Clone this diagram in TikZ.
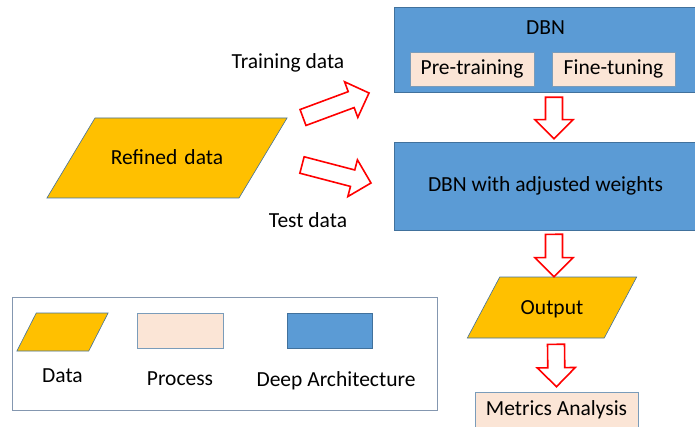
\documentclass[tikz,border=0pt]{standalone}
\usepackage{fontspec}
\setmainfont{Carlito}
\usetikzlibrary{shapes,arrows,calc}
\definecolor{dbnblue}{HTML}{5B9BD5}
\definecolor{dbnedge}{HTML}{41719C}
\definecolor{dataorange}{HTML}{FFC000}
\definecolor{procpeach}{HTML}{FBE5D6}
\definecolor{framegray}{HTML}{8497B0}
\tikzset{
  base/.style={font=\fontsize{21.5}{24}\selectfont, inner sep=0pt},
  data/.style={base, trapezium, trapezium left angle=60, trapezium right angle=120,
    align=center, draw=dbnedge, fill=dataorange, line width=0.6pt},
  deep/.style={base, rectangle, draw=dbnedge, fill=dbnblue, line width=0.6pt},
  process/.style={base, rectangle, draw=dbnedge!70, fill=procpeach, line width=0.6pt},
  blockarr/.style={draw=red, fill=white, line width=1.6pt, line join=miter}
}
% hollow block arrow from #1 to #2
\newcommand{\blockarrow}[2]{%
  \coordinate (#1-h) at ($(#2)!19pt!(#1)$);
  \draw[blockarr] ($(#1)!8.5pt!90:(#2)$) -- ($(#1-h)!8.5pt!-90:(#1)$)
    -- ($(#1-h)!19pt!-90:(#1)$) -- (#2) -- ($(#1-h)!19pt!90:(#1)$)
    -- ($(#1-h)!8.5pt!90:(#1)$) -- ($(#1)!8.5pt!-90:(#2)$) -- cycle;
}

\begin{document}
\begin{tikzpicture}[x=1pt, y=1pt, node distance=3em]
    \useasboundingbox (0,0) rectangle (695,426);
    \clip (0,0) rectangle (695,426);

	\node[data, trapezium left angle=59, trapezium right angle=121,
      text width=144pt, text height=47pt, text depth=33pt] (refined) at (167,268) {Refined data};

	\node[deep, minimum width=303pt, minimum height=85pt] (dbn) at (545.5,376.5) {};
	\node[base] (dbnlabel) at ([yshift=-21pt]dbn.north) {DBN};
	\node[process, minimum width=124pt, minimum height=34pt] (pre) at (472,357) {Pre-training};
	\node[process, right of=pre, node distance=141.5pt,
      minimum width=123pt, minimum height=34pt] (fine) {Fine-tuning};

	\node[deep, below of=dbn, node distance=136.5pt,
      minimum width=303pt, minimum height=88pt] (dbnw) {DBN with adjusted weights};
	\node[data, trapezium left angle=62, trapezium right angle=118, below of=dbnw,
      node distance=121.5pt, xshift=6.5pt,
      text width=104.5pt, text height=37.5pt, text depth=23.5pt] (output) {Output};
	\node[process, below of=output, node distance=102.5pt, xshift=4.5pt,
      minimum width=163pt, minimum height=36pt] (metrics) {Metrics Analysis};

	\node[base] (train) at (288,363) {Training data};
	\node[base] (test) at (308,206) {Test data};

	\coordinate (trs) at (303,308.5);
	\coordinate (tre) at (369,333);
	\coordinate (tes) at (302,261);
	\coordinate (tee) at (371,243);
	\coordinate (d1s) at ([xshift=8.5pt,yshift=-5pt]dbn.south);
	\coordinate (d1e) at ([xshift=8.5pt,yshift=3pt]dbnw.north);
	\coordinate (d2s) at ([xshift=8.5pt,yshift=-4pt]dbnw.south);
	\coordinate (d2e) at ([xshift=2pt]output.north);
	\coordinate (d3s) at ([xshift=4pt,yshift=-6pt]output.south);
	\coordinate (d3e) at ([yshift=5pt]metrics.north);
    \blockarrow{trs}{tre}
    \blockarrow{tes}{tee}
    \blockarrow{d1s}{d1e}
    \blockarrow{d2s}{d2e}
    \blockarrow{d3s}{d3e}

	\node[draw=framegray, line width=0.8pt, minimum width=425pt, minimum height=113pt] (legend) at (224.5,72.5) {};
	\node[data, trapezium left angle=63, trapezium right angle=117,
      text width=52.5pt, text height=19pt, text depth=19pt] (ldata) at (62.5,94) {};
	\node[process, minimum width=86pt, minimum height=35pt] (lproc) at (180,95.5) {};
	\node[deep, minimum width=85pt, minimum height=35pt] (ldeep) at (329.5,95.5) {};
	\node[base, below of=ldata, node distance=44pt] (ldatatxt) {Data};
	\node[base, below of=lproc, node distance=48.5pt] (lproctxt) {Process};
	\node[base, below of=ldeep, node distance=50pt, xshift=6.5pt] (ldeeptxt) {Deep Architecture};
\end{tikzpicture}
\end{document}
